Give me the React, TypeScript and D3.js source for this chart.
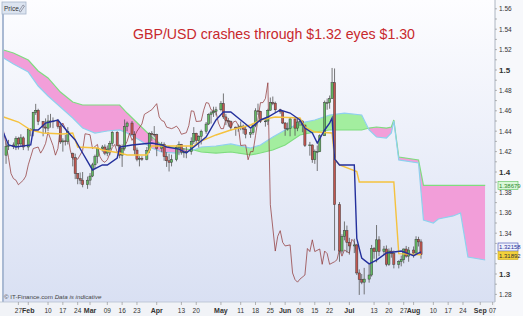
import React from "react";
import * as d3 from "d3";

// ---------- data ----------
const dates = [
  "2016-01-21","2016-01-22","2016-01-25","2016-01-26","2016-01-27","2016-01-28","2016-01-29",
  "2016-02-01","2016-02-02","2016-02-03","2016-02-04","2016-02-05","2016-02-08","2016-02-09","2016-02-10","2016-02-11","2016-02-12","2016-02-15","2016-02-16","2016-02-17","2016-02-18","2016-02-19","2016-02-22","2016-02-23","2016-02-24","2016-02-25","2016-02-26","2016-02-29",
  "2016-03-01","2016-03-02","2016-03-03","2016-03-04","2016-03-07","2016-03-08","2016-03-09","2016-03-10","2016-03-11","2016-03-14","2016-03-15","2016-03-16","2016-03-17","2016-03-18","2016-03-21","2016-03-22","2016-03-23","2016-03-24","2016-03-25","2016-03-28","2016-03-29","2016-03-30","2016-03-31",
  "2016-04-01","2016-04-04","2016-04-05","2016-04-06","2016-04-07","2016-04-08","2016-04-11","2016-04-12","2016-04-13","2016-04-14","2016-04-15","2016-04-18","2016-04-19","2016-04-20","2016-04-21","2016-04-22","2016-04-25","2016-04-26","2016-04-27","2016-04-28","2016-04-29",
  "2016-05-02","2016-05-03","2016-05-04","2016-05-05","2016-05-06","2016-05-09","2016-05-10","2016-05-11","2016-05-12","2016-05-13","2016-05-16","2016-05-17","2016-05-18","2016-05-19","2016-05-20","2016-05-23","2016-05-24","2016-05-25","2016-05-26","2016-05-27","2016-05-30","2016-05-31",
  "2016-06-01","2016-06-02","2016-06-03","2016-06-06","2016-06-07","2016-06-08","2016-06-09","2016-06-10","2016-06-13","2016-06-14","2016-06-15","2016-06-16","2016-06-17","2016-06-20","2016-06-21","2016-06-22","2016-06-23","2016-06-24","2016-06-27","2016-06-28","2016-06-29","2016-06-30",
  "2016-07-01","2016-07-04","2016-07-05","2016-07-06","2016-07-07","2016-07-08","2016-07-11","2016-07-12","2016-07-13","2016-07-14","2016-07-15","2016-07-18","2016-07-19","2016-07-20","2016-07-21","2016-07-22","2016-07-25","2016-07-26","2016-07-27","2016-07-28","2016-07-29",
  "2016-08-01","2016-08-02","2016-08-03","2016-08-04",
];
const open = [
  1.4165,1.4250,1.4265,1.4250,1.4330,1.4275,1.4335,
  1.4245,1.4415,1.4410,1.4585,1.4605,1.4495,1.4440,1.4430,1.4500,1.4495,1.4500,1.4445,1.4295,1.4305,1.4300,1.4180,1.4140,1.3985,1.3935,1.3920,1.3875,
  1.3920,1.3960,1.4070,1.4150,1.4230,1.4245,1.4185,1.4225,1.4280,1.4390,1.4260,1.4165,1.4230,1.4445,1.4480,1.4370,1.4215,1.4125,1.4135,1.4125,1.4210,1.4375,1.4370,
  1.4365,1.4230,1.4270,1.4150,1.4110,1.4095,1.4120,1.4240,1.4270,1.4195,1.4195,1.4200,1.4300,1.4380,1.4310,1.4350,1.4400,1.4470,1.4565,1.4580,1.4595,
  1.4610,1.4670,1.4540,1.4505,1.4495,1.4440,1.4425,1.4435,1.4450,1.4420,1.4370,1.4385,1.4455,1.4600,1.4595,1.4495,1.4500,1.4605,1.4680,1.4675,1.4610,1.4590,
  1.4480,1.4425,1.4425,1.4520,1.4430,1.4490,1.4500,1.4460,1.4260,1.4265,1.4120,1.4200,1.4200,1.4355,1.4680,1.4680,1.4720,1.4875,1.3680,1.3225,1.3370,1.3425,
  1.3310,1.3275,1.3285,1.3010,1.2945,1.2920,1.2950,1.2990,1.3250,1.3220,1.3335,1.3220,1.3245,1.3095,1.3225,1.3200,1.3095,1.3120,1.3140,1.3245,1.3175,
  1.3235,1.3205,1.3340,1.3315,
];
const high = [
  1.4290,1.4315,1.4290,1.4350,1.4345,1.4370,1.4350,
  1.4425,1.4430,1.4590,1.4668,1.4620,1.4500,1.4525,1.4560,1.4570,1.4535,1.4520,1.4470,1.4330,1.4365,1.4440,1.4190,1.4180,1.3990,1.3995,1.4000,1.3955,
  1.3990,1.4090,1.4170,1.4240,1.4265,1.4270,1.4260,1.4305,1.4400,1.4400,1.4270,1.4270,1.4515,1.4495,1.4500,1.4400,1.4240,1.4155,1.4155,1.4245,1.4390,1.4400,1.4450,
  1.4375,1.4295,1.4290,1.4195,1.4180,1.4170,1.4265,1.4300,1.4275,1.4235,1.4250,1.4340,1.4440,1.4385,1.4360,1.4415,1.4490,1.4575,1.4600,1.4640,1.4640,
  1.4695,1.4770,1.4570,1.4530,1.4505,1.4445,1.4465,1.4495,1.4465,1.4450,1.4420,1.4470,1.4625,1.4670,1.4600,1.4520,1.4620,1.4730,1.4740,1.4690,1.4620,1.4600,
  1.4490,1.4485,1.4535,1.4530,1.4525,1.4530,1.4505,1.4465,1.4295,1.4270,1.4220,1.4260,1.4370,1.4700,1.4720,1.4750,1.5020,1.5015,1.3705,1.3390,1.3515,1.3475,
  1.3355,1.3345,1.3295,1.3045,1.3000,1.3060,1.3095,1.3285,1.3265,1.3480,1.3370,1.3275,1.3280,1.3250,1.3260,1.3230,1.3135,1.3180,1.3250,1.3275,1.3265,
  1.3270,1.3370,1.3365,1.3340,
];
const low = [
  1.4080,1.4215,1.4225,1.4215,1.4220,1.4250,1.4215,
  1.4210,1.4350,1.4350,1.4560,1.4460,1.4350,1.4380,1.4400,1.4435,1.4430,1.4425,1.4275,1.4200,1.4260,1.4270,1.4055,1.3930,1.3880,1.3880,1.3850,1.3835,
  1.3870,1.3950,1.4030,1.4085,1.4200,1.4165,1.4155,1.4165,1.4255,1.4250,1.4135,1.4050,1.4210,1.4400,1.4360,1.4170,1.4105,1.4055,1.4110,1.4115,1.4185,1.4305,1.4340,
  1.4155,1.4195,1.4110,1.4050,1.4005,1.4055,1.4105,1.4165,1.4170,1.4140,1.4135,1.4170,1.4275,1.4265,1.4240,1.4270,1.4375,1.4460,1.4475,1.4540,1.4555,
  1.4595,1.4520,1.4460,1.4445,1.4405,1.4355,1.4395,1.4410,1.4375,1.4330,1.4335,1.4365,1.4440,1.4560,1.4480,1.4445,1.4460,1.4600,1.4655,1.4580,1.4570,1.4470,
  1.4355,1.4405,1.4350,1.4355,1.4400,1.4450,1.4390,1.4245,1.4160,1.4090,1.4080,1.4010,1.4195,1.4355,1.4610,1.4620,1.4715,1.3230,1.3120,1.3200,1.3330,1.3210,
  1.3190,1.3205,1.2990,1.2795,1.2900,1.2800,1.2915,1.2975,1.3150,1.3115,1.3175,1.3185,1.3075,1.3080,1.3160,1.3055,1.3055,1.3075,1.3105,1.3160,1.3120,
  1.3160,1.3200,1.3270,1.3150,
];
const close = [
  1.4250,1.4265,1.4250,1.4330,1.4275,1.4335,1.4245,
  1.4415,1.4410,1.4585,1.4605,1.4495,1.4440,1.4430,1.4500,1.4495,1.4500,1.4445,1.4295,1.4305,1.4300,1.4400,1.4140,1.3985,1.3935,1.3920,1.3875,1.3920,
  1.3960,1.4070,1.4150,1.4230,1.4245,1.4185,1.4225,1.4280,1.4390,1.4260,1.4165,1.4230,1.4445,1.4480,1.4370,1.4215,1.4125,1.4135,1.4125,1.4210,1.4375,1.4370,1.4365,
  1.4230,1.4270,1.4150,1.4110,1.4095,1.4120,1.4240,1.4270,1.4195,1.4195,1.4200,1.4300,1.4380,1.4310,1.4350,1.4400,1.4470,1.4565,1.4580,1.4595,1.4610,
  1.4670,1.4540,1.4505,1.4495,1.4440,1.4425,1.4435,1.4450,1.4420,1.4370,1.4385,1.4455,1.4600,1.4595,1.4495,1.4500,1.4605,1.4680,1.4675,1.4610,1.4590,1.4480,
  1.4425,1.4425,1.4520,1.4430,1.4490,1.4500,1.4460,1.4260,1.4265,1.4120,1.4200,1.4200,1.4355,1.4680,1.4680,1.4720,1.4875,1.3680,1.3225,1.3370,1.3425,1.3310,
  1.3275,1.3285,1.3010,1.2945,1.2920,1.2950,1.2990,1.3250,1.3220,1.3335,1.3220,1.3245,1.3095,1.3225,1.3200,1.3095,1.3120,1.3140,1.3245,1.3175,1.3235,
  1.3205,1.3340,1.3315,1.3189,
];

// Ichimoku lines (key points)
const tenkanDates = ["2016-01-20","2016-01-22","2016-01-26","2016-02-02","2016-02-03","2016-02-05","2016-02-09","2016-02-15","2016-02-19","2016-02-23","2016-02-26","2016-03-02","2016-03-07","2016-03-09","2016-03-14","2016-03-15","2016-03-21","2016-03-30","2016-04-04","2016-04-06","2016-04-12","2016-04-15","2016-04-19","2016-04-25","2016-04-29","2016-05-03","2016-05-06","2016-05-11","2016-05-16","2016-05-20","2016-05-24","2016-05-30","2016-06-03","2016-06-08","2016-06-10","2016-06-14","2016-06-16","2016-06-20","2016-06-22","2016-06-23","2016-06-24","2016-06-27","2016-07-04","2016-07-05","2016-07-06","2016-07-07","2016-07-11","2016-07-14","2016-07-19","2016-07-26","2016-08-01","2016-08-04"];
const tenkan = [1.4382,1.4265,1.4245,1.4265,1.4412,1.4412,1.4480,1.4510,1.4392,1.4314,1.4186,1.4020,1.4069,1.4069,1.4137,1.4245,1.4265,1.4284,1.4265,1.4245,1.4225,1.4186,1.4245,1.4343,1.4510,1.4588,1.4588,1.4510,1.4431,1.4510,1.4539,1.4608,1.4578,1.4510,1.4431,1.4382,1.4284,1.4412,1.4480,1.4529,1.4127,1.4069,1.4069,1.3350,1.3250,1.3157,1.3100,1.3137,1.3206,1.3225,1.3180,1.32158];
const kijunDates = ["2016-01-20","2016-01-27","2016-02-02","2016-02-08","2016-02-17","2016-02-22","2016-02-24","2016-03-04","2016-03-07","2016-03-15","2016-03-18","2016-03-28","2016-03-30","2016-04-19","2016-04-21","2016-04-29","2016-05-06","2016-05-16","2016-05-20","2016-05-27","2016-06-08","2016-06-10","2016-06-15","2016-06-23","2016-06-24","2016-06-27","2016-07-05","2016-07-06","2016-07-22","2016-07-25","2016-08-04"];
const kijun = [1.4539,1.4490,1.4412,1.4382,1.4373,1.4382,1.4245,1.4235,1.4216,1.4186,1.4167,1.4167,1.4255,1.4255,1.4294,1.4363,1.4412,1.4461,1.4510,1.4539,1.4529,1.4441,1.4392,1.4382,1.4127,1.4069,1.4005,1.3902,1.3902,1.3200,1.31892];
const cloudDates = ["2016-01-20","2016-01-25","2016-02-01","2016-02-05","2016-02-10","2016-02-16","2016-02-22","2016-02-26","2016-03-03","2016-03-09","2016-03-15","2016-03-18","2016-03-24","2016-03-30","2016-04-04","2016-04-11","2016-04-15","2016-04-19","2016-04-22","2016-04-29","2016-05-06","2016-05-16","2016-05-20","2016-05-26","2016-06-01","2016-06-08","2016-06-15","2016-06-22","2016-06-29","2016-07-07","2016-07-11","2016-07-14","2016-07-19","2016-07-21","2016-07-22","2016-07-25","2016-08-03","2016-08-05","2016-08-10","2016-08-12","2016-08-19","2016-08-23","2016-08-26","2016-09-04"];
const senkouA = [1.5118,1.5059,1.4980,1.4843,1.4745,1.4637,1.4529,1.4431,1.4382,1.4402,1.4412,1.4382,1.4314,1.4235,1.4196,1.4186,1.4196,1.4216,1.4245,1.4255,1.4275,1.4235,1.4265,1.4343,1.4412,1.4480,1.4510,1.4559,1.4578,1.4559,1.4412,1.4343,1.4333,1.4382,1.4500,1.4118,1.4088,1.3529,1.3500,1.3539,1.3569,1.3598,1.3167,1.3137];
const senkouB = [1.5196,1.5167,1.5098,1.4990,1.4922,1.4784,1.4686,1.4657,1.4657,1.4657,1.4657,1.4578,1.4461,1.4343,1.4265,1.4235,1.4225,1.4216,1.4196,1.4186,1.4196,1.4167,1.4186,1.4216,1.4265,1.4363,1.4392,1.4412,1.4412,1.4412,1.4431,1.4441,1.4431,1.4441,1.4510,1.4147,1.4118,1.38679,1.38679,1.38679,1.38679,1.38679,1.38679,1.38679];

const yTicks = [1.56,1.54,1.52,1.5,1.48,1.46,1.44,1.42,1.4,1.38,1.36,1.34,1.3,1.28];
const xTickDates = ["2016-01-27","2016-02-01","2016-02-10","2016-02-17","2016-02-24","2016-03-01","2016-03-09","2016-03-16","2016-03-23","2016-04-01","2016-04-13","2016-04-20","2016-05-02","2016-05-11","2016-05-18","2016-05-25","2016-06-01","2016-06-08","2016-06-15","2016-06-22","2016-07-01","2016-07-13","2016-07-20","2016-07-27","2016-08-01","2016-08-10","2016-08-17","2016-08-24","2016-09-01","2016-09-07"];
const xTickLabels = ["27","Feb","10","17","24","Mar","09","16","23","Apr","13","20","May","11","18","25","Jun","08","15","22","Jul","13","20","27","Aug","10","17","24","Sep","07"];

const title = "GBP/USD crashes through $1.32 eyes $1.30";

// ---------- layout ----------
const W = 523, H = 316;
const PL = 3, PR = 495, PT = 0, PB = 302;

// bar slot: 6 bars per week (Sun-Fri), counted from Wed 27 Jan 2016
const base = Date.UTC(2016, 0, 27);
const remMap = [0, 1, 2, 2.5, 3, 4, 5];
function slot(ds: string) {
  const [yy, mm, dd] = ds.split("-").map(Number);
  const days = Math.round((Date.UTC(yy, mm - 1, dd) - base) / 86400000);
  const wk = Math.floor(days / 7);
  return wk * 6 + remMap[days - wk * 7];
}

const x = d3.scaleLinear().domain([-6.235, 192.96]).range([PL, PR]);
const y = d3.scaleLinear().domain([1.28, 1.56]).range([294.4, 8.8]);

const font = "'Liberation Sans Narrow', 'Arial Narrow', 'Liberation Sans', Arial, sans-serif";

export default function App() {
  const cloud = cloudDates.map((d, i) => ({ s: slot(d), a: senkouA[i], b: senkouB[i] }));
  const between = d3.area<any>().x((d) => x(d.s)).y0((d) => y(d.a)).y1((d) => y(d.b))(cloud)!;
  const aboveA = d3.area<any>().x((d) => x(d.s)).y0(PT).y1((d) => y(d.a))(cloud)!;
  const belowA = d3.area<any>().x((d) => x(d.s)).y0((d) => y(d.a)).y1(PB)(cloud)!;
  const lineA = d3.line<any>().x((d) => x(d.s)).y((d) => y(d.a))(cloud)!;
  const lineB = d3.line<any>().x((d) => x(d.s)).y((d) => y(d.b))(cloud)!;

  const tk = d3.line<any>().x((d) => x(d.s)).y((d) => y(d.v))(tenkanDates.map((d, i) => ({ s: slot(d), v: tenkan[i] })))!;
  const kj = d3.line<any>().x((d) => x(d.s)).y((d) => y(d.v))(kijunDates.map((d, i) => ({ s: slot(d), v: kijun[i] })))!;
  const chikou = d3.line<any>().x((d) => x(d.s)).y((d) => y(d.v))(dates.map((d, i) => ({ s: slot(d) - 26, v: close[i] })))!;

  const bw = 2.2;

  return (
    <svg width={W} height={H} style={{ position: "absolute", left: 0, top: 0 }} fontFamily={font}>
      <defs>
        <linearGradient id="bg" x1="0" y1="0" x2="0" y2="1">
          <stop offset="0" stopColor="#fdfdff" />
          <stop offset="1" stopColor="#d9e0f3" />
        </linearGradient>
        <clipPath id="plot"><rect x={PL} y={PT} width={PR - PL} height={PB - PT} /></clipPath>
        <clipPath id="aboveA"><path d={aboveA} /></clipPath>
        <clipPath id="belowA"><path d={belowA} /></clipPath>
      </defs>
      <rect x={0} y={0} width={W} height={H} fill="#f7f8fb" />
      <rect x={PL} y={PT} width={PR - PL} height={PB - PT} fill="url(#bg)" />

      <g clipPath="url(#plot)">
        <path d={between} fill="#f29ed9" clipPath="url(#aboveA)" />
        <path d={between} fill="#a3ee9f" clipPath="url(#belowA)" />
        <path d={lineB} fill="none" stroke="#7fdc7f" strokeWidth={1.2} />
        <path d={lineA} fill="none" stroke="#8fd0ef" strokeWidth={1.2} />
        <path d={chikou} fill="none" stroke="#8e3434" strokeWidth={0.8} opacity={0.9} />
        {dates.map((d, i) => {
          const cx = x(slot(d));
          const up = close[i] >= open[i];
          const top = y(Math.max(open[i], close[i]));
          const bot = y(Math.min(open[i], close[i]));
          return (
            <g key={d}>
              <line x1={cx} x2={cx} y1={y(high[i])} y2={y(low[i])} stroke="#555" strokeWidth={0.8} />
              <rect x={cx - bw / 2} y={top} width={bw} height={Math.max(bot - top, 0.8)}
                fill={up ? "#62b862" : "#c0564f"} stroke="#333" strokeWidth={0.45} />
            </g>
          );
        })}
        <path d={kj} fill="none" stroke="#f5c23e" strokeWidth={1.4} />
        <path d={tk} fill="none" stroke="#24309c" strokeWidth={1.4} />
      </g>

      {/* left rail and price box */}
      <rect x={2} y={14} width={2} height={PB - 14} fill="#a9b9d3" />
      <rect x={2} y={2} width={24} height={12} fill="#dce4f0" stroke="#a6b4ca" strokeWidth={0.8} />
      <text x={4} y={10.5} fontSize={6.5} fill="#333">Price</text>
      <path d="M19 11 L23 5 L24.5 6 L20.5 12 Z" fill="none" stroke="#667" strokeWidth={0.6} />

      {/* title */}
      <text x={274} y={39} textAnchor="middle" fontSize={15} fill="#c8282c" textLength={282}
        lengthAdjust="spacingAndGlyphs"
        fontFamily="'Liberation Sans', Arial, sans-serif">{title}</text>

      {/* right axis */}
      <line x1={PR} x2={PR} y1={0} y2={PB} stroke="#9aa3b3" strokeWidth={0.8} />
      {d3.range(1.28, 1.5701, 0.01).map((v) => (
        <line key={v} x1={PR} x2={PR + 2} y1={y(v)} y2={y(v)} stroke="#888" strokeWidth={0.6} />
      ))}
      {yTicks.map((v) => {
        const major = Math.abs(v * 10 - Math.round(v * 10)) < 1e-6;
        return (
          <text key={v} x={PR + 4} y={y(v) + 2.5} fontSize={major ? 8 : 6.5}
            fontWeight={major ? "bold" : "normal"} fill="#333">{String(v)}</text>
        );
      })}
      {/* last-value boxes */}
      <rect x={PR + 3} y={y(1.38679) - 4} width={20} height={8} fill="#d9f7d9" stroke="#58c058" strokeWidth={0.6} />
      <text x={PR + 4} y={y(1.38679) + 2.2} fontSize={6} fill="#2c8a2c">1.38679</text>
      <rect x={PR + 3} y={243} width={20} height={8} fill="#eef1fb" stroke="#3a48b0" strokeWidth={0.6} />
      <text x={PR + 4} y={249.3} fontSize={6} fill="#24309c">1.32158</text>
      <rect x={PR + 3} y={251.5} width={20} height={8} fill="#f3d13a" stroke="#c9a820" strokeWidth={0.6} />
      <text x={PR + 4} y={257.8} fontSize={6} fill="#333">1.31892</text>

      {/* bottom axis */}
      <rect x={0} y={PB} width={PR} height={H - PB} fill="#f1f3f7" />
      <line x1={0} x2={PR} y1={PB} y2={PB} stroke="#b8c0cf" strokeWidth={0.8} />
      {xTickDates.map((d, i) => {
        const tx = x(slot(d));
        const month = /[A-Za-z]/.test(xTickLabels[i]);
        return (
          <g key={d}>
            <line x1={tx} x2={tx} y1={PB} y2={PB + 3} stroke="#888" strokeWidth={0.6} />
            <text x={tx} y={312.5} textAnchor="middle" fontSize={month ? 7 : 6.5}
              fontWeight={month ? "bold" : "normal"} fill="#333">{xTickLabels[i]}</text>
          </g>
        );
      })}
      <text x={4} y={299} fontSize={6.2} fill="#444">
        © IT-Finance.com <tspan fontStyle="italic">Data is indicative</tspan>
      </text>
    </svg>
  );
}
